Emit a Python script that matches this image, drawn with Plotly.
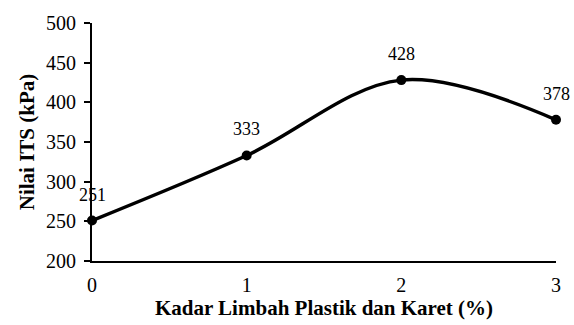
import plotly.graph_objects as go

# Kadar limbah plastik dan karet (%) vs nilai ITS (kPa)
kadar = [0, 1, 2, 3]
nilai_its = [251, 333, 428, 378]
y_ticks = [200, 250, 300, 350, 400, 450, 500]
x_ticks = [0, 1, 2, 3]

font_family = "Liberation Serif, Times New Roman, serif"

fig = go.Figure()
fig.add_trace(go.Scatter(
    x=kadar, y=nilai_its,
    mode="lines+markers",
    line=dict(color="black", width=3.5, shape="spline", smoothing=1.0),
    marker=dict(color="black", size=10),
    cliponaxis=False,
    showlegend=False,
))

for xv, yv in zip(kadar, nilai_its):
    fig.add_annotation(
        x=xv, y=yv, text=str(yv), showarrow=False,
        yshift=26, font=dict(family=font_family, size=18, color="black"),
    )

fig.update_layout(
    width=574, height=325,
    margin=dict(l=92, r=18, t=21, b=63),
    paper_bgcolor="white", plot_bgcolor="white",
    font=dict(family=font_family, color="black", size=20),
    xaxis=dict(
        range=[0, 3], tickvals=x_ticks, showgrid=False, zeroline=False,
        showline=True, linecolor="black", linewidth=2,
        ticks="", tickfont=dict(size=20), ticklabelstandoff=5,
        title=dict(text="<b>Kadar Limbah Plastik dan Karet (%)</b>",
                   font=dict(size=21), standoff=2),
    ),
    yaxis=dict(
        range=[200, 500], tickvals=y_ticks, showgrid=False, zeroline=False,
        showline=True, linecolor="black", linewidth=2,
        ticks="outside", ticklen=6, tickwidth=2, tickcolor="black",
        tickfont=dict(size=20), ticklabelstandoff=4,
        title=dict(text="<b>Nilai ITS (kPa)</b>", font=dict(size=21), standoff=6),
    ),
)

fig.write_html("out.html")
